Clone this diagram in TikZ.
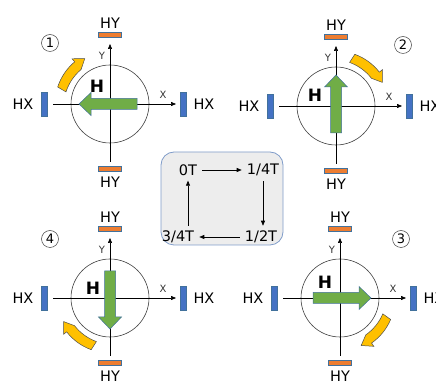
\documentclass[tikz,border=0pt]{standalone}
\usepackage{fontspec}
\setmainfont{DejaVu Sans}
\usetikzlibrary{arrows.meta,positioning}

\definecolor{hxblue}{HTML}{4472C4}
\definecolor{hyorange}{HTML}{ED7D31}
\definecolor{barline}{HTML}{41719C}
\definecolor{hgreen}{HTML}{70AD47}
\definecolor{turnfill}{HTML}{FFC000}
\definecolor{boxline}{HTML}{7F9CC9}

\begin{document}
\begin{tikzpicture}[x=1pt, y=1pt,
  every node/.style={font=\fontsize{14.5}{16}\selectfont, inner sep=0pt},
  hxbar/.style={draw=barline, line width=0.5pt, fill=hxblue, minimum width=6pt, minimum height=24pt},
  hybar/.style={draw=barline, line width=0.5pt, fill=hyorange, minimum width=23pt, minimum height=5pt},
  rotor/.style={draw=black!75, line width=0.6pt, circle, minimum size=78pt},
  axis/.style={-{Triangle[length=5pt, width=4pt]}, line width=0.5pt},
  axlbl/.style={font=\fontsize{10}{11}\selectfont, text=black!80},
  hlbl/.style={font=\bfseries\fontsize{17}{18}\selectfont},
  numlbl/.style={circle, draw=black!75, line width=0.5pt, minimum size=17pt,
    font=\fontsize{13}{14}\selectfont},
  field/.style={draw=barline, line width=0.5pt, fill=hgreen},
  turn/.style={draw=black!70, line width=0.5pt, fill=turnfill},
  tnode/.style={inner sep=5pt},
  flow/.style={-{Triangle[length=5pt, width=4pt]}, line width=0.6pt}
]
\useasboundingbox (0,0) rectangle (436,385);

% four rotation states
\foreach \cx/\cy/\dir/\num/\nx/\ny/\hx/\hy/\rs/\k in {
    110/281/180/1/-60/61/-13/18/162/a,
    336/279/90/2/67/61/-21/11/70/b,
    340/87/0/3/61/59/-15/16/-23/c,
    110/87/270/4/-60/59/-17/10/250/d}{
  \begin{scope}[shift={(\cx,\cy)}]
    \coordinate (xs\k) at (-57,0);
    \coordinate (xe\k) at (66,0);
    \coordinate (ys\k) at (0,-58);
    \coordinate (ye\k) at (0,60);
    \node[rotor] (rot\k) at (0,0) {};
    \draw[axis] (xs\k) -- (xe\k);
    \draw[axis] (ys\k) -- (ye\k);
    \node[axlbl] (xl\k) at (53,9) {X};
    \node[axlbl] (yl\k) at (-8,48) {Y};
    \node[hxbar] (hxl\k) at (-65.5,0) {};
    \node[hxbar] (hxr\k) at (73,0) {};
    \node[hybar] (hyt\k) at (0,69) {};
    \node[hybar] (hyb\k) at (0,-65) {};
    \node (hxlt\k) at (-87,0) {HX};
    \node (hxrt\k) at (94,0) {HX};
    \node (hytt\k) at (0,81) {HY};
    \node (hybt\k) at (0,-78) {HY};
    \draw[field, rotate=\dir] (-27,-5.5) -- (19,-5.5) -- (19,-11.5) -- (31,0)
      -- (19,11.5) -- (19,5.5) -- (-27,5.5) -- cycle;
    \node[hlbl] (h\k) at (\hx,\hy) {H};
    \node[numlbl] (n\k) at (\nx,\ny) {\num};
    \draw[turn] (\rs:55) arc[start angle=\rs, end angle={\rs-32}, radius=55]
      -- ({\rs-32}:59) -- ({\rs-43}:52) -- ({\rs-32}:45)
      arc[start angle={\rs-32}, end angle=\rs, radius=49] -- cycle;
  \end{scope}
}

% timing cycle
\node[draw=boxline, line width=0.8pt, fill=black!7, rounded corners=13pt,
  minimum width=122pt, minimum height=93pt] (cyc) at (222,186.5) {};
\node[tnode] (t0) at (188,215) {0T};
\node[tnode] (t1) at (263,215) {1/4T};
\node[tnode] (t2) at (261,148) {1/2T};
\node[tnode] (t3) at (178,148) {3/4T};
\draw[flow] (t0) -- (t1);
\draw[flow] (t1.south) -- (t1.south |- t2.north);
\draw[flow] (t2) -- (t3);
\draw[flow] (t3.north -| t0.south) -- (t0.south);
\end{tikzpicture}
\end{document}
